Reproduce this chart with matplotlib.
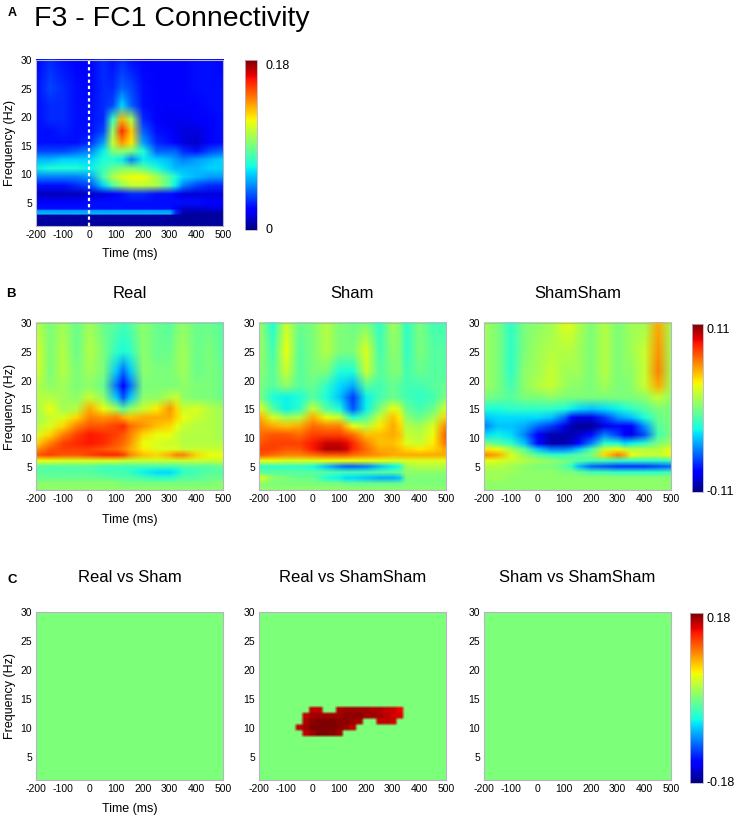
import numpy as np
import matplotlib
matplotlib.use('Agg')
import matplotlib.pyplot as plt
from matplotlib.image import NonUniformImage

plt.rcParams['font.family'] = ['Liberation Sans', 'DejaVu Sans']
plt.rcParams['axes.unicode_minus'] = False

W, H = 737, 817

# ---- panel A : F3-FC1 connectivity (units of 0.01), rows from 30 Hz down
time_a = [-200, -150, -100, -50, 0, 50, 85, 120, 155, 200, 250, 300, 320, 350, 400, 450, 500]
freq_a = [30, 25, 22, 19.5, 17.5, 15.5, 14, 12.5, 11, 9.5, 8, 6.5, 5, 3.9, 3.6, 3.0, 2.8, 1]
conn_a = [
    [2, 3, 2.5, 2, 2, 3, 2.5, 3, 2.5, 2, 2, 2, 2, 2, 2.5, 2.5, 2],
    [2.5, 3.5, 3, 2.5, 2, 3, 3, 4, 3.5, 2.5, 2, 2, 2, 2, 2.5, 2.5, 2.5],
    [2.5, 3, 3, 2.5, 2.5, 3, 3.5, 6, 4, 2.5, 2, 2, 2, 2, 2.2, 2.5, 2.5],
    [2.5, 3, 3, 2.5, 2.5, 3, 7.5, 13, 10, 3, 2, 1.8, 1.8, 1.8, 2, 2.2, 2.5],
    [2.5, 2.5, 2.8, 2.5, 2.5, 3.5, 9.5, 15.5, 12.5, 4, 2.5, 2, 1.8, 1.5, 1.5, 2, 2.5],
    [2.5, 2.5, 2.5, 2.5, 3, 5, 10.5, 13.5, 12, 5, 3, 2.5, 2, 1.5, 1.2, 2, 2.5],
    [3.5, 3.5, 3.5, 4, 4.5, 6.5, 9, 9.5, 9, 7, 4, 4, 4, 3, 2.5, 3.5, 4],
    [5.5, 5.5, 6, 6, 6, 7, 7, 6.5, 4.5, 6.5, 6, 5.5, 5, 4.5, 5, 5.5, 6],
    [6.5, 7, 7, 7, 6.5, 7.5, 8.5, 9, 9, 8.5, 7, 6, 5.5, 5.5, 5.5, 6, 6],
    [4.5, 4.5, 4.5, 4.5, 5, 8, 10, 11, 11.5, 11.5, 10, 8, 7, 6, 5.5, 5, 5],
    [2.5, 2.5, 2.5, 3, 3.5, 6, 8, 9.5, 10.5, 10.5, 10, 8, 6.5, 4.5, 3.5, 3, 3],
    [1, 1, 1, 1, 1.2, 1.5, 2, 2.5, 3, 3, 2.5, 2.5, 2, 1.5, 1.5, 1.5, 1.5],
    [2.3, 2.3, 2.3, 2.3, 2.5, 2.5, 2.5, 2.5, 2.5, 2.5, 2.5, 2.5, 2.5, 2.5, 2.5, 2.3, 2.3],
    [2.5, 2.5, 2.5, 2.5, 2.5, 2.5, 2.5, 2.5, 2.5, 2.5, 2.5, 2.5, 2, 1.2, 1.2, 1.5, 1.5],
    [5, 5, 5, 5, 5, 5, 5, 5, 5, 5, 5, 5, 3, 1, 1, 1, 1],
    [5.5, 5.5, 5.5, 5.5, 5.5, 5.5, 5.5, 5.5, 5.5, 5.5, 5.5, 5.5, 3, 0.5, 0.5, 0.5, 0.5],
    [0.5] * 17,
    [0.5] * 17,
]

# ---- panel B : Real / Sham / ShamSham (units of 0.01)
time_b = [-200, -150, -100, -50, 0, 50, 100, 125, 150, 200, 250, 300, 325, 350, 400, 450, 500]
freq_b = [30, 25, 21.5, 19, 17, 15, 13.5, 12, 10.5, 9, 8, 7, 6, 5, 4, 3, 2, 1]
real = [
    [1.5, 0, 1, -0.5, 1, -0.5, -1, -1.5, -1, 0.5, -0.5, -1, 0, 0.5, -0.5, -0.5, -1],
    [2.5, 0, 1.5, -0.5, 1.5, 0, -2, -2.5, -2, 0.5, -0.5, -0.5, 0.5, 1, -0.5, 0, -1],
    [2.5, 0, 1.5, 0, 1, 0, -4, -6, -4, 0.5, 0, 0, 0.5, 1, -0.5, 0, -0.5],
    [1.5, 0.5, 1, 0, 0.5, -0.5, -6, -8.5, -6, 0, 0, 0, 0, 0.5, 0, 0, -0.5],
    [1.5, 1.5, 1, 0.5, 2, 0.5, -4, -6.5, -4, 0.5, 0.5, 1.5, 2, 0.5, 0, 0, -0.5],
    [1, 3, 1, 1.5, 5, 3, 1, -1, 0.5, 2, 3.5, 5.5, 4, 2, 2.5, 1.5, 1],
    [1, 2, 2.5, 4, 6, 5.5, 6, 5, 4.5, 5, 5, 5, 4, 3, 2, 1.5, 1],
    [1.5, 2.5, 4, 6, 7, 7, 7.5, 8, 6.5, 5.5, 4.5, 4, 3, 2, 1.5, 1.5, 1],
    [2.5, 4, 6, 7.5, 8.5, 8, 7.5, 7, 6, 4, 3, 3, 2, 1.5, 1.5, 1.5, 1],
    [4, 6, 7.5, 8, 8.5, 8, 7, 6.5, 5.5, 3, 2.5, 2, 2, 1.5, 1.5, 1.5, 1.5],
    [5.5, 7, 7.5, 7.5, 7.5, 7, 6.5, 6, 5, 3.5, 2.5, 2.5, 2.5, 2, 2, 2, 2],
    [7, 7.5, 7, 7, 7.5, 8, 8, 7.5, 6, 4.5, 4, 5, 6, 6, 4, 3, 3],
    [3, 3, 2.5, 2.5, 2.5, 2.5, 2.5, 2, 2, 2, 2, 2, 2, 2, 2, 2, 2],
    [-1, -1, -1, -1, -1, -1.5, -1.5, -1.5, -1.5, -1.5, -1.5, -1.5, -1.5, -1, -1, -1, -0.5],
    [-1, -1, -1, -1, -1, -1.5, -1.5, -1.5, -2, -3, -3.5, -3.5, -3, -2, -1.5, -1, -1],
    [-0.5, -0.5, -0.5, -0.5, -0.5, -0.5, -1, -1, -1, -1.5, -2, -2, -1.5, -1, -1, -0.5, -0.5],
    [0.5, 0.5, 0.5, 0.5, 0.5, 0.5, 0.5, 0, 0, 0, 0, 0, 0, 0, 0, 0, 0.5],
    [0.5] * 17,
]
sham = [
    [1, -2.5, 2, -0.5, 0, 1.5, 0, 0, -0.5, 0, -2, 1, 0, -2, 0, -1.5, -1.5],
    [1, -1.5, 3, -1, 0, 1.5, 0, 0, 0, 2.5, -1.5, 0.5, 0, -2, 0, -1, -1],
    [0.5, -1, 2, -1, 0, 0, -2.5, -2.5, -2.5, 2, -1, 0, 0, -1.5, -0.5, -1, -1],
    [0, -1, 0.5, -1, -0.5, -2, -3.5, -4, -4.5, -1, -1.5, -0.5, -1, -1.5, -1.5, -1, -0.5],
    [0, -2.5, -3, -2.5, -1, -2.5, -4, -5.5, -7, -3, -1.5, -0.5, -1, -1.5, -2, -1.5, 0],
    [3, -1, -3, -2, 2, -1, -2.5, -4.5, -6.5, -3, 0, 3, 2, -0.5, -1.5, -0.5, 2.5],
    [5, 2.5, 1, 1.5, 5, 3, 2, -0.5, -2.5, -1, 2, 4.5, 3.5, 0.5, -0.5, 1, 4],
    [6, 5, 4.5, 5, 6.5, 6, 6, 4.5, 3, 1.5, 3.5, 5, 4, 1.5, 1, 2.5, 6],
    [6.5, 7, 7, 6.5, 7.5, 7.5, 7.5, 7, 6.5, 4.5, 4.5, 5, 4.5, 2, 1.5, 3, 7],
    [7, 7.5, 7.5, 7.5, 8.5, 9.5, 9.5, 9, 8, 6, 4.5, 4.5, 4, 2.5, 2, 3.5, 6.5],
    [7.5, 7.5, 7, 7, 8.5, 10, 10, 9.5, 8, 6.5, 5, 5, 4.5, 4, 3.5, 4, 5],
    [7, 6.5, 6, 6, 6.5, 7, 7, 7, 6.5, 6, 5.5, 5, 5, 5, 5, 5, 5],
    [3, 3, 2.5, 2.5, 2.5, 3, 3, 3, 3, 3, 3, 2.5, 2.5, 2.5, 2.5, 2.5, 2.5],
    [-2, -2, -2, -2, -2.5, -4, -5.5, -6, -6, -5.5, -4, -3, -2.5, 1, 1.5, 1.5, 1.5],
    [-1, -1, -1, -1, -1, -1, -1.5, -1.5, -1.5, -1.5, -1, -1, -0.5, 0.5, 0.5, 0.5, 0.5],
    [3, 0.5, 0, -0.5, -0.5, -2.5, -3, -3.5, -3.5, -4, -4.5, -4.5, -4, 0, 0, 0, 0],
    [0.5, 0, 0, 0, 0, 0, 0, -0.5, -0.5, -0.5, -0.5, -0.5, -0.5, 0, 0, 0, 0],
    [0.5] * 17,
]
shamsham = [
    [1, 0, -2, 0, 0.5, 1, 2.5, 2.5, 1.5, 0, 1.5, 0, 0.5, 1, 1, 5, 1],
    [1, 0, -2, 0, 1, 1.5, 1.5, 1.5, 1, 0, 1.5, 0, 0.5, 1, 2, 5.5, 1],
    [1, 0, -2, 0.5, 1, 2, 1, 1, 1, 0, 1.5, 0, 0.5, 0.5, 2, 6, 1],
    [1, 0, -1.5, 0.5, 1.5, 2, 1, 0.5, 0.5, 0, 1, 0, 0, 0.5, 2, 5, 1],
    [0, -0.5, -1, 0, 0, 0.5, 0, 0, 0, 0, 0, 0, 0, 0, 0.5, 2, 0.5],
    [-2.5, -2.5, -2, -2, -2, -2, -2.5, -3, -3.5, -4, -3.5, -3, -2.5, -2, -1, 0, 0],
    [-4, -3.5, -3.5, -3.5, -3.5, -4, -6, -8, -9, -9, -7, -5, -4.5, -4, -2.5, -0.5, 0],
    [-5.5, -4, -4, -4.5, -6, -7, -9, -10, -10.5, -10.5, -9, -8, -8.5, -8.5, -5, -1, 0],
    [-3.5, -3, -3.5, -5.5, -8.5, -10, -10, -10, -9.5, -8, -5.5, -7, -8.5, -9, -6.5, -1.5, 0],
    [0, -1, -2, -4, -8, -10, -10, -9.5, -8.5, -5.5, -2, -2.5, -3.5, -3, -2, 0, 1],
    [3.5, 3, 1, -1, -4, -5.5, -5.5, -5, -4, -1.5, 2, 3, 2, 1.5, 1.5, 1.5, 3],
    [6, 5, 2.5, 0.5, -1, -2, -2, -1.5, -1, 0, 4, 6, 5, 3, 2, 2, 3],
    [3, 2.5, 2, 1.5, 1, 0.5, 0, -0.5, -1, -1.5, -1.5, -2, -2, -2, -2, -2, -1.5],
    [1.5, 1.5, 1, 0.5, 0, 0, -1, -2, -4, -6, -6.5, -7, -7, -7, -7, -6.5, -6],
    [1, 1, 1, 0.5, 0.5, 0.5, 0, 0, -0.5, -1.5, -1.5, -2, -2, -2, -2, -2, -1.5],
    [1, 1, 0.5, 0.5, 0.5, 0.5, 0.5, 0.5, 0.5, 0.5, 0.5, 0.5, 0.5, 0.5, 0.5, 0.5, 0.5],
    [0.5] * 17,
    [0.5] * 17,
]

# ---- panel C : significant differences (units of 0.01)
diff_real_sham = [[0.0]]
diff_sham_shamsham = [[0.0]]
diff_background = [[0.0]]
blob_times = [-50, -25, 0, 25, 50, 75, 100, 125, 150, 175, 200, 225, 250, 275, 300, 325]
blob_freqs = [13, 12, 11, 10, 9]
blob_vals = [
    [0, 0, 16, 16, 0, 0, 16.5, 17, 17, 17, 17, 16.5, 16.5, 16, 15.5, 14.5],
    [0, 16, 17, 17, 17, 17, 17, 17.5, 17.5, 17.5, 17, 17, 16.5, 16, 15.5, 15],
    [0, 16.5, 17.5, 18, 18, 18, 17.5, 17.5, 17, 16.5, 0, 0, 16, 16, 15.5, 0],
    [16, 17, 18, 18, 18, 18, 17.5, 17, 16, 0, 0, 0, 0, 0, 0, 0],
    [0, 16, 17, 18, 18, 17.5, 17, 0, 0, 0, 0, 0, 0, 0, 0, 0],
]

titles_b = ['Real', 'Sham', 'ShamSham']
titles_c = ['Real vs Sham', 'Real vs ShamSham', 'Sham vs ShamSham']


def rect(left, top, right, bottom):
    return [left / W, 1 - bottom / H, (right - left) / W, (bottom - top) / H]


def style_axes(ax):
    ax.set_xlim(-200, 500)
    ax.set_ylim(1, 30)
    ax.set_xticks(range(-200, 501, 100))
    ax.set_yticks([5, 10, 15, 20, 25, 30])
    ax.tick_params(length=0, labelsize=7.5, pad=3)
    for s in ax.spines.values():
        s.set_color('#b8b4c8')
        s.set_linewidth(0.8)


def draw_map(ax, t, f, z, lim):
    z = np.array(z, dtype=float)[::-1]
    f = np.array(f, dtype=float)[::-1]
    # extent a little wider than the axes so the edge rows are filled
    im = NonUniformImage(ax, interpolation='bilinear', extent=(-215, 515, 0.4, 30.6),
                         cmap='jet')
    im.set_clim(-lim[0], lim[1])
    im.set_data(np.array(t, dtype=float), f, z)
    ax.add_image(im)
    style_axes(ax)
    return im


def add_cbar(fig, mappable, pos, top_lbl, bot_lbl, gap):
    cax = fig.add_axes(pos)
    cb = fig.colorbar(mappable, cax=cax)
    cb.outline.set_edgecolor('#b8b4c8')
    cb.outline.set_linewidth(0.6)
    cax.set_yticks([])
    cax.text(1 + gap, 1, top_lbl, transform=cax.transAxes, va='top', ha='left', fontsize=9)
    cax.text(1 + gap, 0, bot_lbl, transform=cax.transAxes, va='center', ha='left', fontsize=9)


def label_y(fig, top, bottom):
    fig.text(10 / W, 1 - (top + bottom) / 2 / H, 'Frequency (Hz)', rotation=90,
             ha='center', va='center', fontsize=9)


def label_x(fig, xc, yc):
    fig.text(xc / W, 1 - yc / H, 'Time (ms)', ha='center', va='center', fontsize=9)


fig = plt.figure(figsize=(W / 100, H / 100), dpi=100)

# panel A
fig.text(8 / W, 1 - 16 / H, 'A', fontsize=9, fontweight='bold', va='baseline')
fig.text(34 / W, 1 - 26 / H, 'F3 - FC1 Connectivity', fontsize=20.5, va='baseline')
ax_a = fig.add_axes(rect(36, 60, 223, 226))
img_a = draw_map(ax_a, time_a, freq_a, conn_a, (0, 18))
ax_a.axvline(0, color='white', lw=1.6, ls=(0, (1.5, 1.3)))
label_y(fig, 60, 226)
label_x(fig, 130, 254)
add_cbar(fig, img_a, rect(245, 60, 257, 230), '0.18', '0', 0.7)

# panel B
lefts = [36, 259, 484]
fig.text(6 / W, 1 - 297 / H, 'B', fontsize=9.5, fontweight='bold', va='baseline')
for left, title, data in zip(lefts, titles_b, [real, sham, shamsham]):
    ax = fig.add_axes(rect(left, 323, left + 187, 490))
    img_b = draw_map(ax, time_b, freq_b, data, (11, 11))
    fig.text((left + 93.5) / W, 1 - 298 / H, title, ha='center', va='baseline', fontsize=12)
label_y(fig, 323, 490)
label_x(fig, 130, 520)
add_cbar(fig, img_b, rect(692, 324, 703, 492), '0.11', '-0.11', 0.3)

# panel C
fig.text(7 / W, 1 - 583 / H, 'C', fontsize=9.5, fontweight='bold', va='baseline')
axes_c = []
for left, title in zip(lefts, titles_c):
    ax = fig.add_axes(rect(left, 612, left + 187, 780))
    axes_c.append(ax)
    fig.text((left + 93.5) / W, 1 - 582 / H, title, ha='center', va='baseline', fontsize=12)

for ax, data in zip(axes_c, [diff_real_sham, diff_background, diff_sham_shamsham]):
    img_c = ax.imshow(data, extent=[-200, 500, 1, 30], cmap='jet', vmin=-18, vmax=18,
                      aspect='auto', origin='lower')

blob = np.pad(np.array(blob_vals, dtype=float)[::-1], 1)
fine = np.kron(blob, np.ones((2, 2)))
dt, df = 25, 1
ext = [blob_times[0] - 1.5 * dt, blob_times[-1] + 1.5 * dt,
       blob_freqs[-1] - 1.5 * df, blob_freqs[0] + 1.5 * df]
axes_c[1].imshow(fine, extent=ext, cmap='jet', vmin=-18, vmax=18, aspect='auto',
                 origin='lower', interpolation='bilinear')
for ax in axes_c:
    style_axes(ax)
label_y(fig, 612, 780)
label_x(fig, 130, 809)
add_cbar(fig, img_c, rect(690, 613, 703, 783), '0.18', '-0.18', 0.3)

fig.savefig('out.png', dpi=100)
